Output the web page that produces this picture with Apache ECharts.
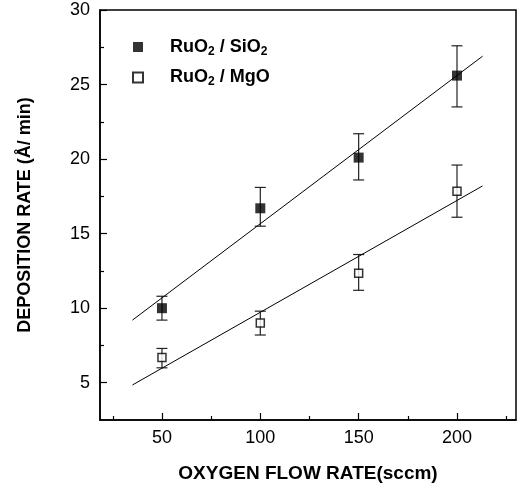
<!DOCTYPE html>
<html><head><meta charset="utf-8">
<script src="https://cdn.jsdelivr.net/npm/echarts@6/dist/echarts.min.js"></script>
<style>html,body{margin:0;padding:0;background:#fff}#c{width:518px;height:492px}</style>
</head><body><div id="c"></div>
<script>
var flow = [50, 100, 150, 200];
var sioRate = [10.0, 16.7, 20.1, 25.6];
var sioLow = [9.2, 15.5, 18.6, 23.5];
var sioHigh = [10.8, 18.1, 21.7, 27.6];
var mgoRate = [6.7, 9.0, 12.35, 17.85];
var mgoLow = [6.0, 8.2, 11.2, 16.1];
var mgoHigh = [7.3, 9.8, 13.6, 19.6];
var fitX = [35, 213];
var sioFit = [9.2, 26.9];
var mgoFit = [4.85, 18.2];
var xTicks = [50, 100, 150, 200];
var xMinorTicks = [25, 75, 125, 175, 225];
var yTicks = [5, 10, 15, 20, 25, 30];
var yMinorTicks = [7.5, 12.5, 17.5, 22.5, 27.5];

function pairs(xs, ys) { return xs.map(function (x, i) { return [x, ys[i]]; }); }
function bars(xs, lo, hi) { return xs.map(function (x, i) { return [x, lo[i], hi[i]]; }); }

function errRender(params, api) {
  var x = api.value(0);
  var p1 = api.coord([x, api.value(1)]);
  var p2 = api.coord([x, api.value(2)]);
  var w = 5.5;
  var st = { stroke: '#222', lineWidth: 1.2 };
  return { type: 'group', children: [
    { type: 'line', shape: { x1: p1[0], y1: p1[1], x2: p2[0], y2: p2[1] }, style: st },
    { type: 'line', shape: { x1: p1[0] - w, y1: p1[1], x2: p1[0] + w, y2: p1[1] }, style: st },
    { type: 'line', shape: { x1: p2[0] - w, y1: p2[1], x2: p2[0] + w, y2: p2[1] }, style: st }
  ]};
}

var font = '"Liberation Sans", Arial, sans-serif';
var chart = echarts.init(document.getElementById('c'), null, { renderer: 'canvas' });
var richText = {
  a: { fontFamily: font, fontWeight: 'bold', fontSize: 18, color: '#000' },
  s: { fontFamily: font, fontWeight: 'bold', fontSize: 12, color: '#000', verticalAlign: 'bottom', padding: [9, 0, 0, 0] }
};
var XMIN = 18.5, XMAX = 230, YMIN = 2.5, YMAX = 30;
chart.setOption({
  animation: false,
  backgroundColor: '#fff',
  grid: { left: 100, right: 2, top: 10, bottom: 72, show: true, borderColor: '#000', borderWidth: 1.5, backgroundColor: 'transparent' },
  legend: {
    orient: 'vertical', left: 127, top: 33, itemGap: 11, itemWidth: 10, itemHeight: 10,
    data: ['SiO2', 'MgO'],
    formatter: function (n) {
      return n === 'SiO2' ? '{a|RuO}{s|2}{a| / SiO}{s|2}' : '{a|RuO}{s|2}{a| / MgO}';
    },
    textStyle: { rich: richText, padding: [0, 0, 0, 22] }
  },
  xAxis: [
    { type: 'value', min: XMIN, max: XMAX, position: 'bottom',
      axisLine: { lineStyle: { color: '#000', width: 1.5 } },
      axisTick: { inside: true, length: 4, customValues: xMinorTicks, lineStyle: { color: '#000', width: 1.2 } },
      axisLabel: { show: false }, splitLine: { show: false } },
    { type: 'value', min: XMIN, max: XMAX, position: 'bottom',
      name: 'OXYGEN FLOW RATE(sccm)', nameLocation: 'middle', nameGap: 44,
      nameTextStyle: { fontFamily: font, fontWeight: 'bold', fontSize: 19, color: '#000' },
      axisLine: { show: false },
      axisTick: { inside: true, length: 7, customValues: xTicks, lineStyle: { color: '#000', width: 1.2 } },
      axisLabel: { margin: 9, fontFamily: font, fontSize: 18, color: '#000', customValues: xTicks },
      splitLine: { show: false } }
  ],
  yAxis: [
    { type: 'value', min: YMIN, max: YMAX, position: 'left',
      axisLine: { show: true, lineStyle: { color: '#000', width: 1.5 } },
      axisTick: { show: true, inside: true, length: 4, customValues: yMinorTicks, lineStyle: { color: '#000', width: 1.2 } },
      axisLabel: { show: false }, splitLine: { show: false } },
    { type: 'value', min: YMIN, max: YMAX, position: 'left',
      name: 'DEPOSITION RATE (Å/ min)', nameLocation: 'middle', nameGap: 66, nameRotate: 90,
      nameTextStyle: { fontFamily: font, fontWeight: 'bold', fontSize: 18, color: '#000' },
      axisLine: { show: false },
      axisTick: { show: true, inside: true, length: 7, customValues: yTicks, lineStyle: { color: '#000', width: 1.2 } },
      axisLabel: { margin: 10, fontFamily: font, fontSize: 18, color: '#000', customValues: yTicks },
      splitLine: { show: false } }
  ],
  series: [
    { type: 'line', xAxisIndex: 1, yAxisIndex: 1, data: pairs(fitX, sioFit), symbol: 'none', silent: true,
      lineStyle: { color: '#000', width: 1 } },
    { type: 'line', xAxisIndex: 1, yAxisIndex: 1, data: pairs(fitX, mgoFit), symbol: 'none', silent: true,
      lineStyle: { color: '#000', width: 1 } },
    { type: 'custom', xAxisIndex: 1, yAxisIndex: 1, renderItem: errRender, data: bars(flow, sioLow, sioHigh), z: 3 },
    { type: 'custom', xAxisIndex: 1, yAxisIndex: 1, renderItem: errRender, data: bars(flow, mgoLow, mgoHigh), z: 3 },
    { name: 'SiO2', type: 'scatter', xAxisIndex: 1, yAxisIndex: 1, data: pairs(flow, sioRate), symbol: 'rect', symbolSize: 10,
      itemStyle: { color: '#000' }, z: 5 },
    { name: 'MgO', type: 'scatter', xAxisIndex: 1, yAxisIndex: 1, data: pairs(flow, mgoRate), symbol: 'rect', symbolSize: 8,
      itemStyle: { color: '#fff', borderColor: '#000', borderWidth: 1.5 }, z: 5 }
  ]
});
</script></body></html>
